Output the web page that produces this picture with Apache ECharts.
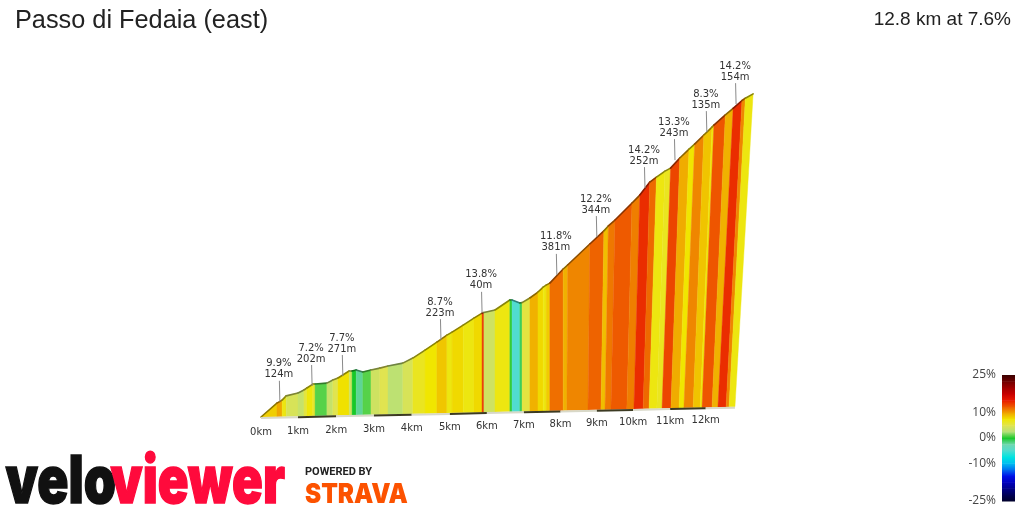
<!DOCTYPE html>
<html>
<head>
<meta charset="utf-8">
<title>Passo di Fedaia (east)</title>
<script src="https://cdn.jsdelivr.net/npm/echarts@6/dist/echarts.min.js"></script>
<style>
html, body { margin: 0; padding: 0; background: #fff; }
#chart { width: 1024px; height: 512px; }
</style>
</head>
<body>
<div id="chart"></div>
<script>
var titleText = "Passo di Fedaia (east)";
var summaryText = "12.8 km at 7.6%";

// stripe edges along the floor of the profile (km, as drawn)
var edgeKm = [0, 0.43, 0.57, 0.68, 1.00, 1.16, 1.24, 1.40, 1.46, 1.78, 1.94, 2.08, 2.38, 2.46, 2.57, 2.75,
    2.97, 3.21, 3.43, 3.83, 4.10, 4.43, 4.75, 5.02, 5.16, 5.46, 5.75, 5.97, 6.02, 6.32, 6.72, 6.78,
    6.99, 7.05, 7.26, 7.48, 7.62, 7.70, 7.80, 8.16, 8.26, 8.83, 9.18, 9.29, 9.45, 9.88, 10.07, 10.32,
    10.48, 10.69, 10.83, 11.07, 11.29, 11.42, 11.67, 11.86, 11.91, 12.18, 12.34, 12.56, 12.64, 12.80];
// the same edges where they meet the top line, the wall leans to the right near the summit
var edgeTopKm = [0, 0.43, 0.57, 0.68, 1.00, 1.16, 1.24, 1.40, 1.46, 1.78, 1.94, 2.08, 2.38, 2.46, 2.57, 2.75,
    2.97, 3.21, 3.43, 3.83, 4.10, 4.43, 4.75, 5.02, 5.16, 5.46, 5.75, 5.97, 6.02, 6.32, 6.72, 6.78,
    6.99, 7.05, 7.26, 7.48, 7.62, 7.70, 7.80, 8.16, 8.28, 8.88, 9.26, 9.38, 9.56, 10.02, 10.23, 10.50,
    10.68, 10.91, 11.06, 11.31, 11.56, 11.71, 11.96, 12.18, 12.23, 12.54, 12.75, 12.99, 13.08, 13.29];
// height gained at each edge (m)
var edgeElev = [0, 42, 51, 64, 72, 81, 87, 99, 99, 101, 110, 116, 137, 137, 140, 133,
    139, 144, 150, 158, 173, 197, 221, 242, 251, 272, 293, 308, 310, 317, 347, 347,
    337, 338, 352, 370, 385, 391, 397, 440, 452, 516, 556, 571, 589, 641, 665, 705,
    720, 738, 747, 778, 805, 820, 848, 872, 878, 909, 929, 953, 960, 973];
// gradient of each stripe (%)
var stripePct = [8.4, 9.9, 7, 4.5, 3.5, 5.5, 7.2, 6, 1, 3.5, 5, 7.7, 4, 0, -2, 1,
    4, 5, 3, 4.5, 6.5, 7.5, 8.7, 7, 8, 7, 8, 13.8, 4, 7, 0.5, -5,
    -1, 5.5, 9.5, 8, 7, 8.5, 11.8, 9.5, 11, 12.2, 9, 11.5, 12.5, 11.3, 14.2, 12,
    7, 6.5, 13.3, 9.7, 7.5, 11, 8.8, 7.2, 12.7, 9.5, 14.2, 11, 7];

// steepest sections called out above the profile
var calloutKm = [0.51, 1.38, 2.21, 4.86, 5.97, 7.99, 9.07, 10.37, 11.18, 12.04, 12.83];
var calloutElev = [46, 93, 122, 227, 309, 422, 537, 686, 771, 856, 941];
var calloutPct = ["9.9%", "7.2%", "7.7%", "8.7%", "13.8%", "11.8%", "12.2%", "14.2%", "13.3%", "8.3%", "14.2%"];
var calloutLen = ["124m", "202m", "271m", "223m", "40m", "381m", "344m", "252m", "243m", "135m", "154m"];

// km marks on the floor, bunched a little by the perspective of the picture
var tickKm = [0, 1.00, 2.03, 3.05, 4.07, 5.10, 6.10, 7.10, 8.09, 9.07, 10.05, 11.05, 12.01];
var tickLabels = ["0km", "1km", "2km", "3km", "4km", "5km", "6km", "7km", "8km", "9km", "10km", "11km", "12km"];
var endKm = 12.8;

// colour scale, one colour per 2.5% from -25% to 25%
var scaleValues = [-25, -22.5, -20, -17.5, -15, -12.5, -10, -7.5, -5, -2.5, 0, 2.5, 5, 7.5, 10, 12.5, 15, 17.5, 20, 22.5, 25];
var scaleColors = ["#00002a", "#000055", "#00008a", "#0000c0", "#0010e8", "#0070f0", "#00c0f0", "#00e4e0",
    "#50dcd0", "#70d8b0", "#18c828", "#b4e07a", "#e0e450", "#f0e600", "#f0a400", "#ee5a00",
    "#e81800", "#c80000", "#a00000", "#700000", "#3a0000"];
var scaleTicks = [-25, -10, 0, 10, 25];

// the floor climbs slowly across the picture, in axis metres per km
var floorTilt = 2.5;
var labelTilt = 2.9;

var stripeData = [];
for (var i = 0; i < stripePct.length; i++) {
    stripeData.push([edgeKm[i], edgeKm[i + 1], edgeTopKm[i], edgeTopKm[i + 1], edgeElev[i], edgeElev[i + 1], stripePct[i]]);
}
var calloutData = [];
for (var i = 0; i < calloutKm.length; i++) {
    calloutData.push([calloutKm[i], calloutElev[i], i]);
}
var floorData = [];
for (var i = 0; i < tickKm.length; i++) {
    floorData.push([tickKm[i], i < tickKm.length - 1 ? tickKm[i + 1] : endKm, i]);
}
var scaleData = [];
for (var i = 0; i < scaleValues.length - 1; i++) {
    scaleData.push([scaleValues[i], scaleValues[i + 1], i]);
}

// rim colour of a stripe
function darken(color) {
    var c = echarts.color.parse(color);
    return "rgb(" + Math.round(c[0] * 0.58) + "," + Math.round(c[1] * 0.58) + "," + Math.round(c[2] * 0.58) + ")";
}

function renderStripe(params, api) {
    var baseL = api.coord([api.value(0), floorTilt * api.value(0)]);
    var baseR = api.coord([api.value(1), floorTilt * api.value(1)]);
    var topL = api.coord([api.value(2), api.value(4) + floorTilt * api.value(0)]);
    var topR = api.coord([api.value(3), api.value(5) + floorTilt * api.value(1)]);
    var color = api.visual("color");
    return {
        type: "group",
        children: [{
            type: "polygon",
            shape: { points: [baseL, baseR, topR, topL] },
            style: { fill: color, stroke: color, lineWidth: 0.4 }
        }, {
            type: "line",
            shape: { x1: topL[0], y1: topL[1], x2: topR[0], y2: topR[1] },
            style: { stroke: darken(color), lineWidth: 1.6, lineCap: "round" }
        }]
    };
}

function renderFloor(params, api) {
    var idx = api.value(2);
    var a = api.coord([api.value(0), floorTilt * api.value(0)]);
    var b = api.coord([api.value(1), floorTilt * api.value(1)]);
    var lab = api.coord([api.value(0), labelTilt * api.value(0)]);
    return {
        type: "group",
        children: [{
            type: "line",
            shape: { x1: a[0], y1: a[1] + 1, x2: b[0], y2: b[1] + 1 },
            style: { stroke: idx % 2 == 1 ? "#3c3a22" : "#d8d8c8", lineWidth: 2 }
        }, {
            type: "text",
            style: {
                text: tickLabels[idx], x: lab[0], y: lab[1] + 15,
                textAlign: "center", textVerticalAlign: "middle",
                fill: "#333", font: "10px 'DejaVu Sans'"
            }
        }]
    };
}

function renderCallout(params, api) {
    var idx = api.value(2);
    var km = api.value(0);
    var p = api.coord([km, api.value(1) + floorTilt * km]);
    return {
        type: "group",
        children: [{
            type: "line",
            shape: { x1: p[0], y1: p[1], x2: p[0] - 0.5, y2: p[1] - 21 },
            style: { stroke: "#8a8a8a", lineWidth: 1 }
        }, {
            type: "text",
            style: {
                text: calloutLen[idx], x: p[0] - 1, y: p[1] - 27,
                textAlign: "center", textVerticalAlign: "middle",
                fill: "#333", font: "10px 'DejaVu Sans'"
            }
        }, {
            type: "text",
            style: {
                text: calloutPct[idx], x: p[0] - 1, y: p[1] - 38,
                textAlign: "center", textVerticalAlign: "middle",
                fill: "#333", font: "10px 'DejaVu Sans'"
            }
        }]
    };
}

// colour bar, drawn on the value axis of its own grid
function renderScale(params, api) {
    var low = api.coord([0, api.value(0)]);
    var high = api.coord([1, api.value(1)]);
    var idx = api.value(2);
    return {
        type: "rect",
        shape: { x: low[0], y: high[1], width: high[0] - low[0], height: low[1] - high[1] + 0.5 },
        style: {
            fill: new echarts.graphic.LinearGradient(0, 1, 0, 0, [
                { offset: 0, color: scaleColors[idx] },
                { offset: 1, color: scaleColors[idx + 1] }
            ])
        }
    };
}

var chart = echarts.init(document.getElementById("chart"));
chart.setOption({
    animation: false,
    backgroundColor: "#fff",
    title: [{
        text: titleText, left: 10, top: 4,
        textStyle: { fontFamily: "Liberation Sans", fontSize: 25.3, fontWeight: "normal", color: "#222" }
    }, {
        text: summaryText, right: 8, top: 5,
        textStyle: { fontFamily: "Liberation Sans", fontSize: 19, fontWeight: "normal", color: "#222" }
    }],
    grid: [
        { left: 261, top: 0, width: 499.9, height: 417 },
        { left: 1002, top: 375, width: 13, height: 126 }
    ],
    xAxis: [
        { gridIndex: 0, type: "value", min: 0, max: 13.5, show: false },
        { gridIndex: 1, type: "value", min: 0, max: 1, show: false }
    ],
    yAxis: [
        { gridIndex: 0, type: "value", min: 0, max: 1297, show: false },
        {
            gridIndex: 1, type: "value", min: -25, max: 25,
            axisLine: { show: false },
            axisTick: { show: false },
            splitLine: { show: false },
            axisLabel: {
                customValues: scaleTicks,
                formatter: "{value}%",
                margin: 6,
                padding: [4, 0, 0, 0],
                fontFamily: "Open Sans",
                fontSize: 12,
                color: "#444"
            }
        }
    ],
    visualMap: {
        type: "continuous",
        show: false,
        seriesIndex: 0,
        dimension: 6,
        min: -25,
        max: 25,
        inRange: { color: scaleColors }
    },
    series: [{
        type: "custom",
        renderItem: renderStripe,
        data: stripeData,
        encode: { x: [0, 1, 2, 3], y: [4, 5] },
        clip: false,
        silent: true
    }, {
        type: "custom",
        renderItem: renderFloor,
        data: floorData,
        encode: { x: [0, 1] },
        clip: false,
        silent: true
    }, {
        type: "custom",
        renderItem: renderCallout,
        data: calloutData,
        encode: { x: 0, y: 1 },
        clip: false,
        silent: true
    }, {
        type: "custom",
        xAxisIndex: 1,
        yAxisIndex: 1,
        renderItem: renderScale,
        data: scaleData,
        encode: { y: [0, 1] },
        silent: true
    }],
    graphic: [
        {
            type: "text", left: 5, top: 449, scaleX: 0.78,
            style: { text: "velo", fill: "#111", stroke: "#111", lineWidth: 1.5, font: "900 66px Inter" }
        },
        {
            type: "text", left: 110, top: 449, scaleX: 0.77,
            style: { text: "viewer", fill: "#ff0a3c", stroke: "#ff0a3c", lineWidth: 1.5, font: "900 66px Inter" }
        },
        {
            type: "text", left: 305, top: 467,
            style: { text: "POWERED BY", fill: "#222", font: "bold 11px Roboto", letterSpacing: 1.5 }
        },
        {
            type: "text", left: 305, top: 481, scaleX: 0.9,
            style: { text: "STRAVA", fill: "#fc5200", font: "900 27px Inter" }
        }
    ]
});
</script>
</body>
</html>
